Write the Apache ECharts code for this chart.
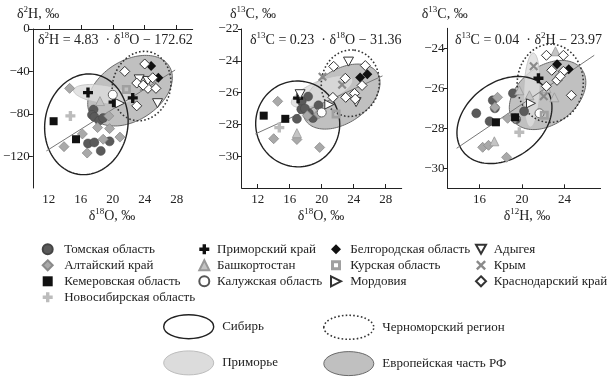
<!DOCTYPE html>
<html><head><meta charset="utf-8">
<script src="https://cdn.jsdelivr.net/npm/echarts@6/dist/echarts.min.js"></script>
<style>html,body{margin:0;padding:0;background:#fff}#c{width:607px;height:379px}</style>
</head><body><div id="c"></div>
<script>
// ---------- DATA ----------
// Panel 1: x = δ18O, y = δ2H ; Panel 2: x = δ18O, y = δ13C ; Panel 3: x = δ2H(label δ12H), y = δ13C
const categories = ['Томская область','Алтайский край','Кемеровская область','Новосибирская область',
  'Приморский край','Башкортостан','Калужская область','Белгородская область','Курская область',
  'Мордовия','Адыгея','Крым','Краснодарский край'];
const regions = ['Сибирь','Приморье','Черноморский регион','Европейская часть РФ'];

const tomsk1 = [[17.6,-76],[17.4,-81],[17.7,-83],[18.3,-86.5],[18.8,-84],[16.9,-108],[17.7,-107],[18.5,-115],[19.6,-106]];
const altai1 = [[14.6,-56],[13.9,-111],[16.2,-99],[16.8,-117],[18.1,-93],[19.6,-94],[18.8,-104],[20.9,-102],[19.5,-82]];
const kemer1 = [[12.6,-87],[15.4,-104]];
const novosib1 = [[14.7,-82]];
const primor1 = [[16.9,-60],[20.1,-69],[22.5,-65]];
const bashk1 = [[18.4,-68]];
const kaluga1 = [[20.0,-62]];
const belgorod1 = [[24.8,-35],[25.7,-46]];
const kursk1 = [[21.7,-57]];
const mordov1 = [[20.9,-70]];
const adyg1 = [[23.3,-47.5],[24.4,-49],[25.6,-70]];
const krym1 = [[23.9,-55]];
const krasnodar1 = [[21.5,-40],[24.0,-33],[23.0,-51],[24.4,-56],[25.4,-56],[23.0,-72.5],[23.8,-53],[25.0,-46]];

const tomsk2 = [[18.3,-26.25],[17.5,-26.55],[17.45,-27.05],[18.4,-27.3],[18.9,-27.6],[16.9,-27.65],[19.6,-26.8],[17.9,-27.0]];
const altai2 = [[14.5,-26.55],[14.0,-28.9],[16.9,-28.95],[19.75,-29.45],[18.2,-27.45],[19.6,-27.35]];
const kemer2 = [[12.75,-27.45],[15.45,-27.65]];
const novosib2 = [[14.7,-28.2]];
const primor2 = [[17.05,-26.35]];
const bashk2 = [[16.9,-28.55]];
const kaluga2 = [[20.0,-27.25]];
const belgorod2 = [[24.8,-25.05],[25.7,-24.85]];
const kursk2 = [[21.8,-27.35]];
const mordov2 = [[20.95,-26.75]];
const adyg2 = [[23.35,-24.05],[24.3,-26.6],[17.3,-26.1]];
const krym2 = [[20.1,-25.0],[22.55,-25.5]];
const krasnodar2 = [[21.5,-24.35],[25.45,-24.3],[22.95,-25.1],[23.0,-26.3],[24.1,-26.05],[25.05,-25.55],[24.2,-26.4],[21.4,-26.3]];

const tomsk3 = [[17.25,-26.6],[17.45,-27.0],[15.7,-27.25],[16.95,-27.65],[19.15,-26.25],[20.2,-27.15],[19.45,-27.55]];
const altai3 = [[17.7,-26.45],[17.45,-26.95],[16.3,-28.95],[16.85,-28.85],[18.55,-29.45],[19.35,-27.5],[18.65,-27.5]];
const kemer3 = [[17.55,-27.7],[19.35,-27.45]];
const novosib3 = [[19.75,-28.2]];
const primor3 = [[21.55,-25.5]];
const bashk3 = [[17.4,-28.65],[19.75,-26.1],[20.7,-26.35],[22.3,-26.0],[23.05,-26.45],[23.15,-24.15]];
const kaluga3 = [[21.65,-27.25]];
const belgorod3 = [[23.3,-24.8],[24.4,-25.05]];
const kursk3 = [[22.1,-27.35]];
const mordov3 = [[20.85,-26.75]];
const adyg3 = [];
const krym3 = [[21.1,-24.9],[22.05,-26.4]];
const krasnodar3 = [[22.3,-24.35],[22.8,-25.1],[23.9,-24.35],[23.9,-25.15],[23.3,-25.6],[22.3,-25.9],[24.65,-26.35],[23.6,-25.4]];

// ellipses: [centerX, centerY, semiAxisP_x, semiAxisP_y, semiAxisQ_x, semiAxisQ_y] in data units
const sibir = [[16.7,-89.9,1.04,47.1,5.12,-6.3],[17.0,-27.97,5.17,0.46,0.93,-2.66],[18.35,-27.585,3.92,1.56,2.15,-1.52]];
const primorye = [[18.8,-61.6,3.7,-4,0.16,8.4],[20.04,-25.93,3.8,0.78,0.52,-0.64],[20.93,-26.085,0.14,1.85,0.75,-0.015]];
const chernomor = [[23.6,-53.8,1.13,32,3.5,-7],[23.58,-25.41,0.5,2.08,3.6,-0.22],[22.66,-25.75,0.28,1.95,3.1,-0.15]];
const europe = [[22.16,-58.2,4.9,23.1,2.0,-24.0],[22.46,-26.25,4.46,1.51,1.85,-1.38],[22.41,-26.335,3.2,1.3,1.65,-1.14]];

// regression line end points
const reg1 = [[11.7,-115],[27.8,-38.7]];
const reg2 = [[11.7,-28.6],[27.6,-24.95]];
const reg3 = [[13.85,-29.0],[26.8,-24.35]];

// axis ranges and tick labels
const xRange = [[10,30],[10,30],[13,27.4]];
const yRange = [[-150,0],[-32,-22],[-31,-23]];
const xTicks = [[12,16,20,24,28],[12,16,20,24,28],[16,20,24]];
const yTicks = [[-120,-80,-40,0],[-30,-28,-26,-24,-22],[-30,-28,-26,-24]];

// ---------- CHART ----------
const catData = [
  [tomsk1,tomsk2,tomsk3],[altai1,altai2,altai3],[kemer1,kemer2,kemer3],[novosib1,novosib2,novosib3],
  [primor1,primor2,primor3],[bashk1,bashk2,bashk3],[kaluga1,kaluga2,kaluga3],[belgorod1,belgorod2,belgorod3],
  [kursk1,kursk2,kursk3],[mordov1,mordov2,mordov3],[adyg1,adyg2,adyg3],[krym1,krym2,krym3],[krasnodar1,krasnodar2,krasnodar3]
];
const PLUS = 'path://M3.3,0H6.7V3.3H10V6.7H6.7V10H3.3V6.7H0V3.3H3.3Z';
const CROSS = 'path://M0,1.7L1.7,0L5,3.3L8.3,0L10,1.7L6.7,5L10,8.3L8.3,10L5,6.7L1.7,10L0,8.3L3.3,5Z';
const catStyle = [
  {symbol:'circle', size:9, color:'#5a5a5a', border:'#444', bw:0.5},
  {symbol:'diamond', size:10, color:'#a9a9a9', border:'#8a8a8a', bw:0.8},
  {symbol:'rect', size:8, color:'#111', border:'#111', bw:0},
  {symbol:PLUS, size:10, color:'#bcbcbc', border:'#bcbcbc', bw:0},
  {symbol:PLUS, size:10, color:'#111', border:'#111', bw:0},
  {symbol:'triangle', size:9, color:'#c4c4c4', border:'#999', bw:0.8},
  {symbol:'circle', size:9, color:'#fff', border:'#555', bw:0.9},
  {symbol:'diamond', size:10, color:'#111', border:'#111', bw:0},
  {symbol:'path://M0,0H10V10H0Z M3,3V7H7V3Z', size:9, color:'#a0a0a0', border:'#a0a0a0', bw:0},
  {symbol:'path://M0,0L10,5L0,10Z', size:9, color:'#fff', border:'#333', bw:1},
  {symbol:'path://M0,0H10L5,9Z', size:10, color:'#fff', border:'#333', bw:1},
  {symbol:CROSS, size:9, color:'#8a8a8a', border:'#8a8a8a', bw:0},
  {symbol:'diamond', size:10, color:'#fff', border:'#333', bw:1}
];
const regionStyle = [
  {fill:'none', stroke:'#222', lineWidth:1.4},
  {fill:'rgba(220,220,220,0.8)', stroke:'#bdbdbd', lineWidth:0.8},
  {fill:'none', stroke:'#333', lineWidth:1.6, lineDash:[1.6,2.2]},
  {fill:'#c0c0c0', stroke:'#6a6a6a', lineWidth:1}
];
const regionData = [sibir, primorye, chernomor, europe];
const drawOrder = [3,1,2,0];

const FONT = 'Liberation Serif';
const grids = [
  {left:32.7, top:29, width:160, height:159},
  {left:241.7, top:29, width:160, height:159},
  {left:447.6, top:28.3, width:153, height:160}
];
const fmt = v => String(v).replace('-', '\u2212');
const xAxes = [], yAxes = [];
for (let i=0;i<3;i++){
  xAxes.push({gridIndex:i, type:'value', min:xRange[i][0], max:xRange[i][1],
    axisLine:{lineStyle:{color:'#222',width:1}},
    axisTick:{inside:true, length:4, customValues:xTicks[i], lineStyle:{color:'#222'}},
    axisLabel:{customValues:xTicks[i], fontFamily:FONT, fontSize:13, color:'#222', margin:5, formatter:fmt},
    splitLine:{show:false}});
  yAxes.push({gridIndex:i, type:'value', min:yRange[i][0], max:yRange[i][1],
    axisLine:{show:true, lineStyle:{color:'#222',width:1}},
    axisTick:{show:true, inside:false, length:4, customValues:yTicks[i], lineStyle:{color:'#222'}},
    axisLabel:{customValues:yTicks[i], fontFamily:FONT, fontSize:13, color:'#222', margin:3, formatter:fmt},
    splitLine:{show:false}});
}

function makeEllipseRender(st){
  return function(params, api){
    const cx=api.value(0), cy=api.value(1), px=api.value(2), py=api.value(3), qx=api.value(4), qy=api.value(5);
    const pts=[];
    for (let k=0;k<120;k++){
      const t=k/120*2*Math.PI, c=Math.cos(t), s=Math.sin(t);
      pts.push(api.coord([cx+px*c+qx*s, cy+py*c+qy*s]));
    }
    return {type:'polygon', shape:{points:pts}, style:Object.assign({}, st)};
  };
}

const series = [];
for (let i=0;i<3;i++){
  drawOrder.forEach((r, k) => {
    series.push({type:'custom', name:regions[r], xAxisIndex:i, yAxisIndex:i, z:1+k*0.1,
      renderItem:makeEllipseRender(regionStyle[r]), data:[regionData[r][i]], silent:true, clip:false});
  });
  const reg = [reg1,reg2,reg3][i];
  series.push({type:'line', xAxisIndex:i, yAxisIndex:i, data:reg, symbol:'none', z:2,
    lineStyle:{color:'#777', width:1}, silent:true});
  categories.forEach((name, c) => {
    const st = catStyle[c];
    series.push({type:'scatter', name, xAxisIndex:i, yAxisIndex:i, z:3, data:catData[c][i],
      symbol:st.symbol, symbolSize:st.size, symbolKeepAspect:true,
      itemStyle:{color:st.color, borderColor:st.border, borderWidth:st.bw, opacity:1}});
  });
}

const sup = (parts) => parts.map(p => p[1] ? '{s|'+p[0]+'}' : '{n|'+p[0]+'}').join('');
const rich = (fs) => ({n:{fontFamily:FONT, fontSize:fs, lineHeight:17, fill:'#222'}, s:{fontFamily:FONT, fontSize:Math.round(fs*0.64), lineHeight:17, verticalAlign:'top', fill:'#222'}});
function txt(x, y, parts, align, fs){
  return {type:'text', x, y, silent:true, style:{text:sup(parts), rich:rich(fs), align, verticalAlign:'middle', fill:'#222'}};
}
const graphic = [
  txt(17, 14, [['δ'],['2',1],['H, ‰']], 'left', 14),
  txt(230, 14, [['δ'],['13',1],['C, ‰']], 'left', 14),
  txt(421.7, 14, [['δ'],['13',1],['C, ‰']], 'left', 14),
  txt(112, 216, [['δ'],['18',1],['O, ‰']], 'center', 14),
  txt(321, 216, [['δ'],['18',1],['O, ‰']], 'center', 14),
  txt(527, 216, [['δ'],['12',1],['H, ‰']], 'center', 14),
  txt(38, 40, [['δ'],['2',1],['H = 4.83  · δ'],['18',1],['O − 172.62']], 'left', 14),
  txt(250, 40, [['δ'],['13',1],['C = 0.23  · δ'],['18',1],['O − 31.36']], 'left', 14),
  txt(455, 40, [['δ'],['13',1],['C = 0.04  · δ'],['2',1],['H − 23.97']], 'left', 14)
];

const legText = {fontFamily:FONT, fontSize:13, color:'#222'};
function catLegend(left, top, names, pad){
  return {left, top, padding:0, orient:'vertical', itemWidth:10, itemHeight:10, itemGap:3, selectedMode:false,
    data:names, textStyle:Object.assign({padding:[0,0,0,pad]}, legText)};
}
const ELL = 'path://M0,12A25,12,0,1,1,50,12A25,12,0,1,1,0,12Z';
function regLegend(left, top, idx, pad){
  return {left, top, padding:0, orient:'vertical', itemWidth:51, itemHeight:24, itemGap:11, selectedMode:false,
    textStyle:Object.assign({padding:[0,0,0,pad]}, legText),
    data: idx.map(r => ({name:regions[r], icon:ELL,
      itemStyle:{color: regionStyle[r].fill==='none' ? '#fff' : (r===1?'#dcdcdc':'#c0c0c0'),
        borderColor: r===1 ? '#bdbdbd' : regionStyle[r].stroke, borderWidth: r===2?1.6:(r===0?1.4:1),
        borderType: r===2 ? [1.6,2.2] : 'solid'}}))};
}
const legend = [
  catLegend(41.7, 242.8, categories.slice(0,4), 6.5),
  catLegend(198.3, 242.8, categories.slice(4,7), 2.7),
  catLegend(330, 242.8, categories.slice(7,10), 4.3),
  catLegend(475, 242.8, categories.slice(10,13), 2.7),
  regLegend(163, 314, [0,1], 3),
  regLegend(323, 314.5, [2,3], 3)
];

const chart = echarts.init(document.getElementById('c'), null, {renderer:'canvas'});
chart.setOption({animation:false, backgroundColor:'#fff', grid:grids, xAxis:xAxes, yAxis:yAxes,
  series, legend, graphic, tooltip:{show:false}});
</script></body></html>
